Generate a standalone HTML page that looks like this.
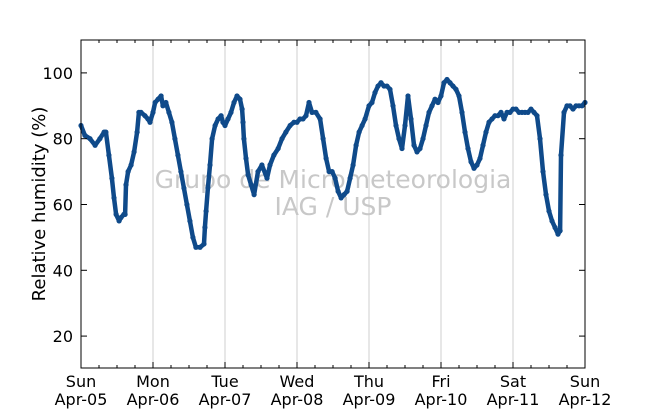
<!DOCTYPE html>
<html><head><meta charset="utf-8"><style>
body{margin:0;background:#fff;}
svg{display:block;font-family:"DejaVu Sans","Liberation Sans",sans-serif;}
</style></head><body>
<svg id="chart" width="650" height="409" viewBox="0 0 650 409">
<rect x="0" y="0" width="650" height="409" fill="#fff"/>
<g id="grid"></g>
<text x="333" y="188" font-size="25" fill="#c8c8c8" text-anchor="middle">Grupo de Micrometeorologia</text>
<text x="333" y="215" font-size="25" fill="#c8c8c8" text-anchor="middle">IAG / USP</text>
<g id="series"></g>
<rect x="81" y="40" width="504" height="328" fill="none" stroke="#000" stroke-width="1"/>
<g id="axes"></g>
<text transform="translate(45,204) rotate(-90)" font-size="18" text-anchor="middle" fill="#000">Relative humidity (%)</text>
</svg>
<script>
const hours=[
0,1.3,3,4.7,6.3,7.7,8.3,9.3,10.3,11,11.7,12.7,13.3,14.3,14.7,15,15.7,16.7,17.7,18.7,19.3,20,21.3,22.3,23,
24,24.7,25.7,26.7,27.3,28.3,29.3,30.3,31.3,32.3,33.3,34.3,35.3,36.3,37.3,38.3,39.7,41,41.3,41.7,42.3,43,43.7,44.7,45.7,46.7,47.3,
48,49,50,51,52,53,53.7,54,54.3,55,55.7,56.7,57.7,59,60.3,62,63,64.3,65.7,67,68.3,69.7,71,
72,73,74,75,76,77,78.3,79.7,80.7,81.7,82.7,83.7,84.7,85.7,86.7,87.7,88.7,89.7,90.7,91.7,92.7,93.7,94.7,
96,97,98,99,100,101,102,103,104,105,106,107,108,109,110,111,112,113,114,115,116,117,118,119,
120,121,122,123,124,125,126,127,128,129,130,131,132,133,134,135,136,137,138,139,140,141,142,143,144,
145,146,147,148,149,150,151,152,153,154,155,156,157,158,159,159.7,160,161,162,163,164,165,166,167,168];
const rh=[
84,81,80,78,80,82,82,75,68,62,57,55,56,57,57,66,70,72,76,82,88,88,87,86,85,
88,91,92,93,90,91,88,85,80,75,70,65,60,55,50,47,47,48,53,58,65,72,80,84,86,87,85,
84,86,88,91,93,92,89,85,80,74,69,66,63,70,72,68,72,75,77,80,82,84,85,
85,86,86,87,91,88,88,86,80,74,70,70,68,64,62,63,64,68,72,78,82,84,86,
90,91,94,96,97,96,96,95,90,84,80,77,84,93,86,78,76,77,80,84,88,90,92,91,
93,97,98,97,96,95,93,88,82,77,73,71,72,74,78,82,85,86,87,87,88,86,88,88,89,
89,88,88,88,88,89,88,87,80,70,63,58,55,53,51,52,75,88,90,90,89,90,90,90,91];
const yTicks=[20,40,60,80,100];
const dayNames=["Sun","Mon","Tue","Wed","Thu","Fri","Sat","Sun"];
const dateNames=["Apr-05","Apr-06","Apr-07","Apr-08","Apr-09","Apr-10","Apr-11","Apr-12"];
const NS="http://www.w3.org/2000/svg";
const X0=81,X1=585,Y0=368,Y1=40,H0=0,H1=168,V0=10.3,V1=110;
function sx(h){return X0+(h-H0)/(H1-H0)*(X1-X0);}
function sy(v){return Y0-(v-V0)/(V1-V0)*(Y0-Y1);}
function mk(tag,attrs,parent){const e=document.createElementNS(NS,tag);for(const k in attrs)e.setAttribute(k,attrs[k]);parent.appendChild(e);return e;}
const grid=document.getElementById('grid'),axes=document.getElementById('axes'),series=document.getElementById('series');
dayNames.forEach((d,i)=>{
  const x=sx(i*24);
  if(i>0&&i<7){const g=mk('line',{x1:x,x2:x,y1:Y1,y2:Y0,stroke:'#cfcfcf','stroke-width':1},grid);
    
    }
  const t1=mk('text',{x:x,y:387,'font-size':16,'text-anchor':'middle'},axes);t1.textContent=d;
  
  
  const t2=mk('text',{x:x,y:405,'font-size':16,'text-anchor':'middle'},axes);t2.textContent=dateNames[i];
  
  
});
for(let h=0;h<=168;h+=6){const x=sx(h),len=(h%24===0)?6:3;
  mk('line',{x1:x,x2:x,y1:Y0,y2:Y0-len,stroke:'#000'},axes);
  mk('line',{x1:x,x2:x,y1:Y1,y2:Y1+len,stroke:'#000'},axes);}
yTicks.forEach(v=>{const y=sy(v);
  mk('line',{x1:X0,x2:X0+6,y1:y,y2:y,stroke:'#000'},axes);
  mk('line',{x1:X1,x2:X1-6,y1:y,y2:y,stroke:'#000'},axes);
  const t=mk('text',{x:73,y:y+6,'font-size':16,'text-anchor':'end'},axes);t.textContent=v;
  
  
});
const n=Math.min(hours.length,rh.length);
const pts=[];
for(let i=0;i<n;i++)pts.push(sx(hours[i]).toFixed(1)+','+sy(rh[i]).toFixed(1));
const pl=mk('polyline',{points:pts.join(' '),fill:'none',stroke:'#0f4a8a','stroke-width':4.5,'stroke-linejoin':'round','stroke-linecap':'round'},series);


for(let i=0;i<n;i++){const c=mk('circle',{cx:sx(hours[i]),cy:sy(rh[i]),r:2.6,fill:'#0f4a8a'},series);
  
  }
</script>
</body></html>
